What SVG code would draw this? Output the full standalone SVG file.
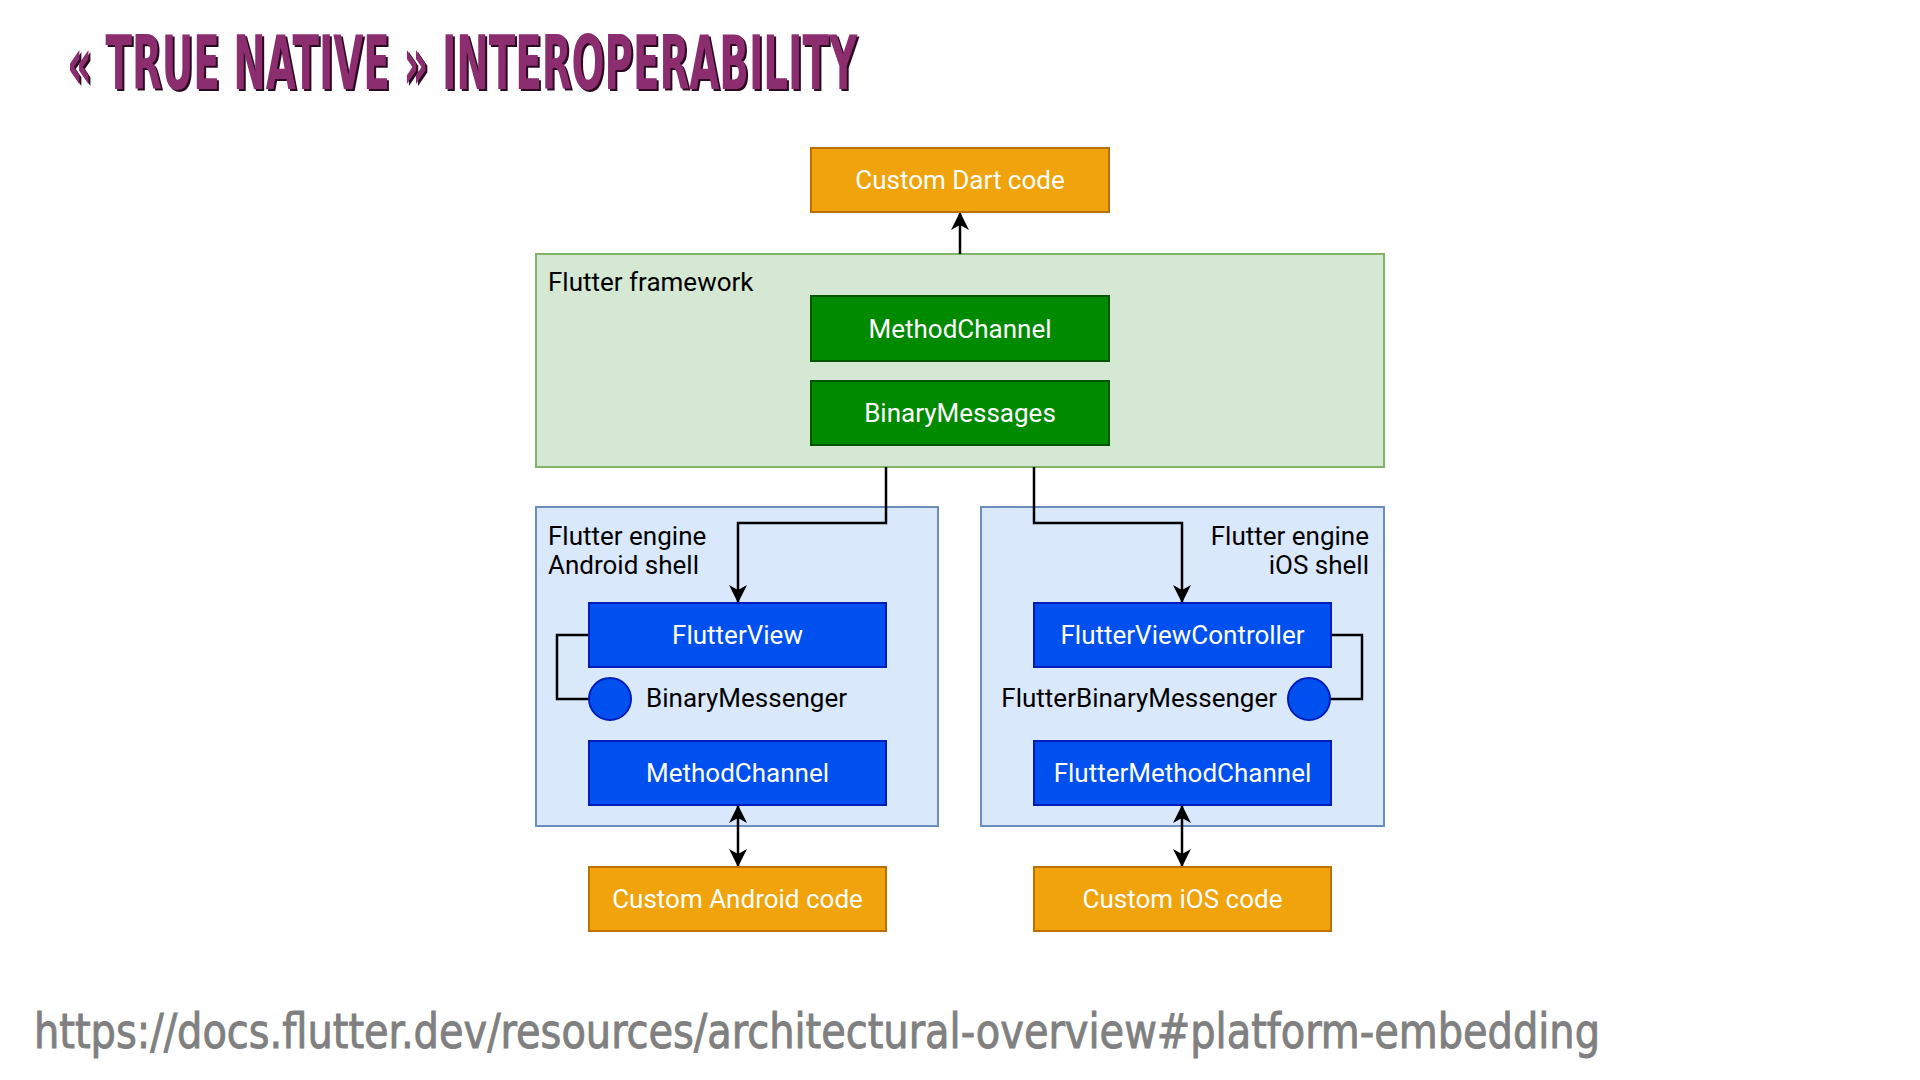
<svg xmlns="http://www.w3.org/2000/svg" width="1920" height="1080" viewBox="0 0 1920 1080">
<defs>
<style>
.lbl{font-family:Roboto,"Liberation Sans",sans-serif;font-size:26px;}
.wt{fill:#ffffff;text-anchor:middle;}
.bk{fill:#000000;}
.orange{fill:#f0a30a;stroke:#bd7000;stroke-width:2;}
.green{fill:#008a00;stroke:#005700;stroke-width:2;}
.blue{fill:#0050ef;stroke:#001dbc;stroke-width:2;}
.gcont{fill:#d5e8d4;stroke:#82b366;stroke-width:2;}
.bcont{fill:#dae8fc;stroke:#6c8ebf;stroke-width:2;}
.conn{fill:none;stroke:#000000;stroke-width:2.5;}
.title{font-family:"Liberation Sans Narrow","DejaVu Sans Condensed","Liberation Sans",sans-serif;font-weight:bold;font-size:74px;}
.url{font-family:"Liberation Sans Narrow","DejaVu Sans Condensed","Liberation Sans",sans-serif;font-size:48px;fill:#808080;stroke:#808080;stroke-width:0.9;}
</style>
<marker id="arr" viewBox="0 0 18 18" refX="17" refY="9" markerWidth="18" markerHeight="18" markerUnits="userSpaceOnUse" orient="auto-start-reverse">
<path d="M0,0 L18,9 L0,18 L5,9 Z" fill="#000000"/>
</marker>
</defs>
<rect x="0" y="0" width="1920" height="1080" fill="#ffffff"/>

<g id="title">
<text class="title" x="69" y="91" fill="#2a0a20" textLength="790" lengthAdjust="spacingAndGlyphs">« TRUE NATIVE » INTEROPERABILITY</text>
<text class="title" x="67" y="89" fill="#8c2d70" textLength="790" lengthAdjust="spacingAndGlyphs">« TRUE NATIVE » INTEROPERABILITY</text>
</g>

<g id="node-flutter-framework">
<rect class="gcont" x="536" y="254" width="848" height="213"/>
<text class="lbl bk" x="548" y="291">Flutter framework</text>
</g>
<g id="node-android-shell">
<rect class="bcont" x="536" y="507" width="402" height="319"/>
<text class="lbl bk" x="548" y="545">Flutter engine</text>
<text class="lbl bk" x="548" y="574">Android shell</text>
</g>
<g id="node-ios-shell">
<rect class="bcont" x="981" y="507" width="403" height="319"/>
<text class="lbl bk" x="1369" y="545" text-anchor="end">Flutter engine</text>
<text class="lbl bk" x="1369" y="574" text-anchor="end">iOS shell</text>
</g>

<g id="connectors">
<path class="conn" d="M960,254 V213" marker-end="url(#arr)"/>
<path class="conn" d="M886,467 V523 H738 V602" marker-end="url(#arr)"/>
<path class="conn" d="M1034,467 V523 H1182 V602" marker-end="url(#arr)"/>
<path class="conn" d="M589,635 H557 V699 H589"/>
<path class="conn" d="M1331,635 H1362 V699 H1330"/>
<path class="conn" d="M738,806 V866" marker-start="url(#arr)" marker-end="url(#arr)"/>
<path class="conn" d="M1182,806 V866" marker-start="url(#arr)" marker-end="url(#arr)"/>
</g>

<g id="node-custom-dart">
<rect class="orange" x="811" y="148" width="298" height="64"/>
<text class="lbl wt" x="960" y="189">Custom Dart code</text>
</g>
<g id="node-methodchannel-dart">
<rect class="green" x="811" y="296" width="298" height="65"/>
<text class="lbl wt" x="960" y="338">MethodChannel</text>
</g>
<g id="node-binarymessages">
<rect class="green" x="811" y="381" width="298" height="64"/>
<text class="lbl wt" x="960" y="422">BinaryMessages</text>
</g>
<g id="node-flutterview">
<rect class="blue" x="589" y="603" width="297" height="64"/>
<text class="lbl wt" x="737.5" y="644">FlutterView</text>
</g>
<g id="node-binarymessenger">
<circle class="blue" cx="610" cy="699" r="21"/>
<text class="lbl bk" x="646" y="707">BinaryMessenger</text>
</g>
<g id="node-methodchannel-android">
<rect class="blue" x="589" y="741" width="297" height="64"/>
<text class="lbl wt" x="737.5" y="782">MethodChannel</text>
</g>
<g id="node-custom-android">
<rect class="orange" x="589" y="867" width="297" height="64"/>
<text class="lbl wt" x="737.5" y="908">Custom Android code</text>
</g>
<g id="node-flutterviewcontroller">
<rect class="blue" x="1034" y="603" width="297" height="64"/>
<text class="lbl wt" x="1182.5" y="644">FlutterViewController</text>
</g>
<g id="node-flutterbinarymessenger">
<circle class="blue" cx="1309" cy="699" r="21"/>
<text class="lbl bk" x="1277" y="707" text-anchor="end">FlutterBinaryMessenger</text>
</g>
<g id="node-fluttermethodchannel">
<rect class="blue" x="1034" y="741" width="297" height="64"/>
<text class="lbl wt" x="1182.5" y="782">FlutterMethodChannel</text>
</g>
<g id="node-custom-ios">
<rect class="orange" x="1034" y="867" width="297" height="64"/>
<text class="lbl wt" x="1182.5" y="908">Custom iOS code</text>
</g>

<g id="url">
<text class="url" x="34" y="1048" textLength="1566" lengthAdjust="spacingAndGlyphs">https://docs.flutter.dev/resources/architectural-overview#platform-embedding</text>
</g>
</svg>
